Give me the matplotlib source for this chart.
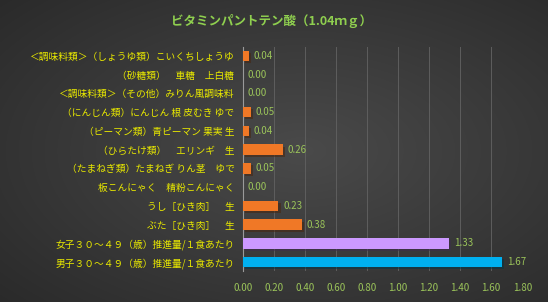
import matplotlib
matplotlib.use("Agg")
import matplotlib.pyplot as plt
import matplotlib.patheffects as pe
import numpy as np

plt.rcParams['font.family'] = ['Noto Sans CJK JP', 'DejaVu Sans']

# data (top to bottom as shown)
labels = [
    "＜調味料類＞（しょうゆ類）こいくちしょうゆ",
    "（砂糖類）　車糖　上白糖",
    "＜調味料類＞（その他）みりん風調味料",
    "（にんじん類）にんじん 根 皮むき ゆで",
    "（ピーマン類）青ピーマン 果実 生",
    "（ひらたけ類）　エリンギ　生",
    "（たまねぎ類）たまねぎ りん茎　ゆで",
    "板こんにゃく　精粉こんにゃく",
    "うし［ひき肉］　生",
    "ぶた［ひき肉］　生",
    "女子３０～４９（歳）推進量/１食あたり",
    "男子３０～４９（歳）推進量/１食あたり",
]
values = [0.04, 0.00, 0.00, 0.05, 0.04, 0.26, 0.05, 0.00, 0.23, 0.38, 1.33, 1.67]
colors = ["#f07826"] * 10 + ["#cc99ff", "#00b0f0"]
title = "ビタミンパントテン酸（1.04ｍｇ）"

fig = plt.figure(figsize=(5.48, 3.02), dpi=100)

# radial gradient background
bg = fig.add_axes([0, 0, 1, 1], zorder=-10)
yy, xx = np.mgrid[0:1:302j, 0:1:548j]
r = np.sqrt(((xx - 0.55) / 0.9) ** 2 + ((yy - 0.5) / 0.9) ** 2)
shade = np.clip(0.29 - 0.15 * r, 0.14, 0.29)
bg.imshow(np.dstack([shade] * 3), extent=[0, 1, 0, 1], aspect='auto')
bg.axis('off')

ax = fig.add_axes([0.443, 0.101, 0.510, 0.745])
ax.patch.set_alpha(0)

y = np.arange(len(values))[::-1]
bars = ax.barh(y, values, height=0.55, color=colors, zorder=3)
for b in bars:
    b.set_path_effects([pe.SimplePatchShadow(offset=(1.5, -1.5), alpha=0.5), pe.Normal()])

for yi, v in zip(y, values):
    ax.text(v + 0.03, yi, f"{v:.2f}", va='center', ha='left', fontsize=7, color='#9bc45a')

ax.set_xlim(0, 1.8)
ax.set_ylim(-0.5, len(values) - 0.5)
ax.set_xticks(np.arange(0, 1.81, 0.2))
ax.set_xticklabels([f"{t:.2f}" for t in np.arange(0, 1.81, 0.2)])
ax.set_yticks(y)
ax.set_yticklabels(labels)
ax.tick_params(axis='x', length=0, labelsize=7, labelcolor='#9bc45a', pad=8)
ax.tick_params(axis='y', length=0, labelsize=7, labelcolor='#e8e800', pad=6)

ax.grid(axis='x', color='#5e5e5e', linewidth=0.7, zorder=0)
for s in ['top', 'right', 'bottom']:
    ax.spines[s].set_visible(False)
ax.spines['left'].set_color('#9a9a9a')
ax.spines['left'].set_linewidth(0.8)

fig.text(0.495, 0.932, title, ha='center', va='center', fontsize=9, fontweight='bold', color='#8fcf4f')

fig.savefig("out.png", dpi=100)
